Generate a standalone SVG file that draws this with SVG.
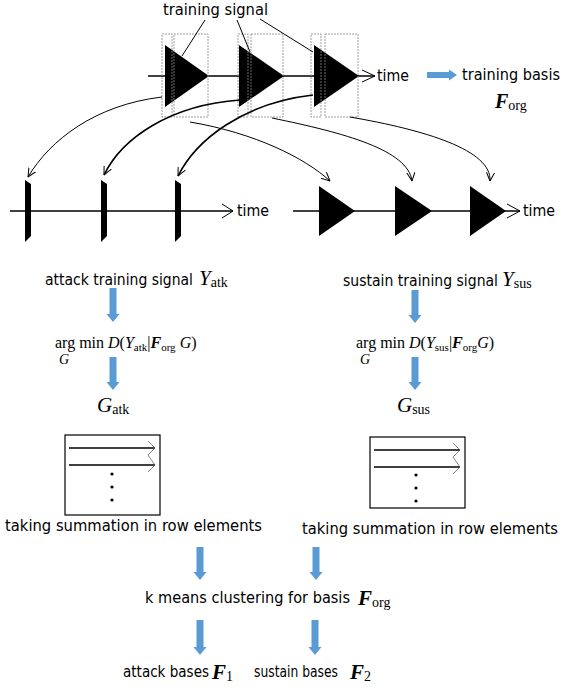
<svg xmlns="http://www.w3.org/2000/svg" width="563" height="690" viewBox="0 0 563 690">
<defs>
<marker id="open" viewBox="0 0 10 10" refX="9.5" refY="5" markerWidth="9" markerHeight="9" markerUnits="userSpaceOnUse" orient="auto">
<path d="M0,0.5 L9.5,5 L0,9.5" fill="none" stroke="#000" stroke-width="1.1"/>
</marker>
</defs>
<style>
.s{font-family:"DejaVu Sans Condensed","DejaVu Sans",Verdana,sans-serif;font-stretch:condensed;font-size:15.5px;fill:#000}
.m{font-family:"Liberation Serif","Times New Roman",serif;fill:#000}
.i{font-style:italic}
.b{font-weight:bold;font-style:italic}
.ax{stroke:#000;stroke-width:1.3;fill:none}
.chev{stroke:#000;stroke-width:1;fill:none}
.dash{stroke:#888;stroke-width:0.8;stroke-dasharray:2 1;fill:none}
.blue{fill:#5B9BD5}
.cur{fill:none;stroke:#000;stroke-width:1;marker-end:url(#open)}
.cur2{fill:none;stroke:#000;stroke-width:1.6;marker-end:url(#open)}
.tri{fill:#000}
.box{fill:#fff;stroke:#000;stroke-width:1.2}
.row{stroke:#000;stroke-width:1.3}
.rchev{stroke:#555;stroke-width:0.7;fill:none}
</style>

<g id="top-timeline">
<line class="ax" x1="148" y1="76" x2="375" y2="76"/>
<path class="chev" d="M362,70 L375,76 L362,82"/>
<polygon class="tri" points="165,45 209,76 165,107"/>
<polygon class="tri" points="239,45 284,76 239,107"/>
<polygon class="tri" points="314,45 359,76 314,107"/>
<rect class="dash" x="162" y="34" width="10" height="83"/>
<rect class="dash" x="174" y="34" width="34" height="83"/>
<rect class="dash" x="238" y="34" width="10" height="83"/>
<rect class="dash" x="251" y="34" width="32" height="83"/>
<rect class="dash" x="311" y="34" width="10" height="83"/>
<rect class="dash" x="325" y="34" width="33" height="83"/>
<text class="s" x="377" y="81" textLength="32" lengthAdjust="spacingAndGlyphs">time</text>
</g>

<g id="training-signal-label">
<text class="s" x="163" y="15" textLength="105" lengthAdjust="spacingAndGlyphs">training signal</text>
<line x1="205" y1="20" x2="182" y2="56" stroke="#000" stroke-width="1"/>
<line x1="237" y1="20" x2="250" y2="52" stroke="#000" stroke-width="1"/>
<line x1="260" y1="19" x2="313" y2="52" stroke="#000" stroke-width="1"/>
</g>

<g id="training-basis">
<path class="blue" d="M427,72 H449 V69.5 L457,75 L449,80.5 V78 H427 Z"/>
<text class="s" x="462" y="80" textLength="98" lengthAdjust="spacingAndGlyphs">training basis</text>
<text class="m" x="495" y="108" font-size="20"><tspan class="b">F</tspan><tspan font-size="14" dy="2">org</tspan></text>
</g>

<g id="attack-timeline">
<line class="ax" x1="10" y1="211" x2="233" y2="211"/>
<path class="chev" d="M222,204 L233,211 L222,218"/>
<polygon class="tri" points="25,180 31,184 31,236 25,242"/>
<polygon class="tri" points="101,180 107,184 107,236 101,242"/>
<polygon class="tri" points="175,180 181,184 181,236 175,242"/>
<text class="s" x="237" y="216" textLength="32" lengthAdjust="spacingAndGlyphs">time</text>
</g>

<g id="sustain-timeline">
<line class="ax" x1="293" y1="211" x2="520" y2="211"/>
<path class="chev" d="M507,204 L520,211 L507,218"/>
<polygon class="tri" points="319,186 355,211 319,236"/>
<polygon class="tri" points="395,186 432,211 395,236"/>
<polygon class="tri" points="470,186 506,211 470,236"/>
<text class="s" x="523" y="216" textLength="32" lengthAdjust="spacingAndGlyphs">time</text>
</g>

<g id="connectors">
<path class="cur" d="M162,97 C95,105 50,140 28,177"/>
<path class="cur2" d="M240,100 C170,105 122,138 104,175"/>
<path class="cur2" d="M313,95 C243,103 196,140 178,176"/>
<path class="cur" d="M190,122 C255,133 305,158 330,181"/>
<path class="cur" d="M272,118 C345,133 408,150 412,181"/>
<path class="cur" d="M350,117 C425,130 492,150 490,181"/>
<path class="blue" d="M109.5,288 H116.5 V314 H119.5 L113,322 L106.5,314 H109.5 Z"/>
<path class="blue" d="M109.5,357 H116.5 V382 H119.5 L113,390 L106.5,382 H109.5 Z"/>
<path class="blue" d="M411.5,290 H418.5 V315 H421.5 L415,323 L408.5,315 H411.5 Z"/>
<path class="blue" d="M411.5,357 H418.5 V382 H421.5 L415,390 L408.5,382 H411.5 Z"/>
<path class="blue" d="M196.5,547 H203.5 V572 H206.5 L200,580 L193.5,572 H196.5 Z"/>
<path class="blue" d="M312.5,547 H319.5 V572 H322.5 L316,580 L309.5,572 H312.5 Z"/>
<path class="blue" d="M196.5,620 H203.5 V647 H206.5 L200,655 L193.5,647 H196.5 Z"/>
<path class="blue" d="M311.5,620 H318.5 V647 H321.5 L315,655 L308.5,647 H311.5 Z"/>
</g>

<g id="attack-signal">
<text class="s" x="45" y="285" textLength="148" lengthAdjust="spacingAndGlyphs">attack training signal</text>
<text class="m" x="199" y="285" font-size="21"><tspan class="i">Y</tspan><tspan font-size="14" dy="2">atk</tspan></text>
</g>
<g id="sustain-signal">
<text class="s" x="343" y="286" textLength="155" lengthAdjust="spacingAndGlyphs">sustain training signal</text>
<text class="m" x="502" y="286" font-size="21"><tspan class="i">Y</tspan><tspan font-size="14" dy="2">sus</tspan></text>
</g>

<g id="attack-argmin">
<text class="m" x="55" y="348" font-size="16">arg min <tspan class="i">D</tspan>(<tspan class="i">Y</tspan><tspan font-size="11" dy="3">atk</tspan><tspan dy="-3">|</tspan><tspan class="b">F</tspan><tspan font-size="11" dy="3">org</tspan><tspan dy="-3" class="i"> G</tspan>)</text>
<text class="m i" x="59" y="364" font-size="14">G</text>
</g>
<g id="sustain-argmin">
<text class="m" x="356" y="348" font-size="16">arg min <tspan class="i">D</tspan>(<tspan class="i">Y</tspan><tspan font-size="11" dy="3">sus</tspan><tspan dy="-3">|</tspan><tspan class="b">F</tspan><tspan font-size="11" dy="3">org</tspan><tspan dy="-3" class="i">G</tspan>)</text>
<text class="m i" x="360" y="364" font-size="14">G</text>
</g>

<g id="G-atk">
<text class="m" x="97" y="412" font-size="21"><tspan class="i">G</tspan><tspan font-size="14" dy="2">atk</tspan></text>
</g>
<g id="G-sus">
<text class="m" x="397" y="412" font-size="21"><tspan class="i">G</tspan><tspan font-size="14" dy="2">sus</tspan></text>
</g>

<g id="attack-matrix">
<rect class="box" x="65" y="435" width="95" height="80"/>
<line class="row" x1="69" y1="448" x2="155" y2="448"/>
<line class="row" x1="69" y1="465" x2="155" y2="465"/>
<path class="rchev" d="M148,441 L155,448 L148,455 L155,465 L148,472"/>
<circle cx="112" cy="474" r="1.6"/>
<circle cx="112" cy="487" r="1.6"/>
<circle cx="112" cy="500" r="1.6"/>
<text class="s" x="5" y="531" textLength="257" lengthAdjust="spacingAndGlyphs">taking summation in row elements</text>
</g>

<g id="sustain-matrix">
<rect class="box" x="370" y="437" width="95" height="71"/>
<line class="row" x1="374" y1="450" x2="460" y2="450"/>
<line class="row" x1="374" y1="467" x2="460" y2="467"/>
<path class="rchev" d="M453,443 L460,450 L453,457 L460,467 L453,474"/>
<circle cx="416" cy="475" r="1.6"/>
<circle cx="416" cy="488" r="1.6"/>
<circle cx="416" cy="501" r="1.6"/>
<text class="s" x="302" y="534" textLength="256" lengthAdjust="spacingAndGlyphs">taking summation in row elements</text>
</g>

<g id="kmeans">
<text class="s" x="145" y="603" textLength="205" lengthAdjust="spacingAndGlyphs">k means clustering for basis</text>
<text class="m" x="358" y="605" font-size="21"><tspan class="b">F</tspan><tspan font-size="14" dy="2">org</tspan></text>
</g>

<g id="attack-bases">
<text class="s" x="123" y="677" font-size="14.5" textLength="86" lengthAdjust="spacingAndGlyphs">attack bases</text>
<text class="m" x="212" y="679" font-size="21"><tspan class="b">F</tspan><tspan font-size="14" dy="2">1</tspan></text>
</g>
<g id="sustain-bases">
<text class="s" x="254" y="677" font-size="13" textLength="84" lengthAdjust="spacingAndGlyphs">sustain bases</text>
<text class="m" x="350" y="679" font-size="21"><tspan class="b">F</tspan><tspan font-size="14" dy="2">2</tspan></text>
</g>
</svg>
